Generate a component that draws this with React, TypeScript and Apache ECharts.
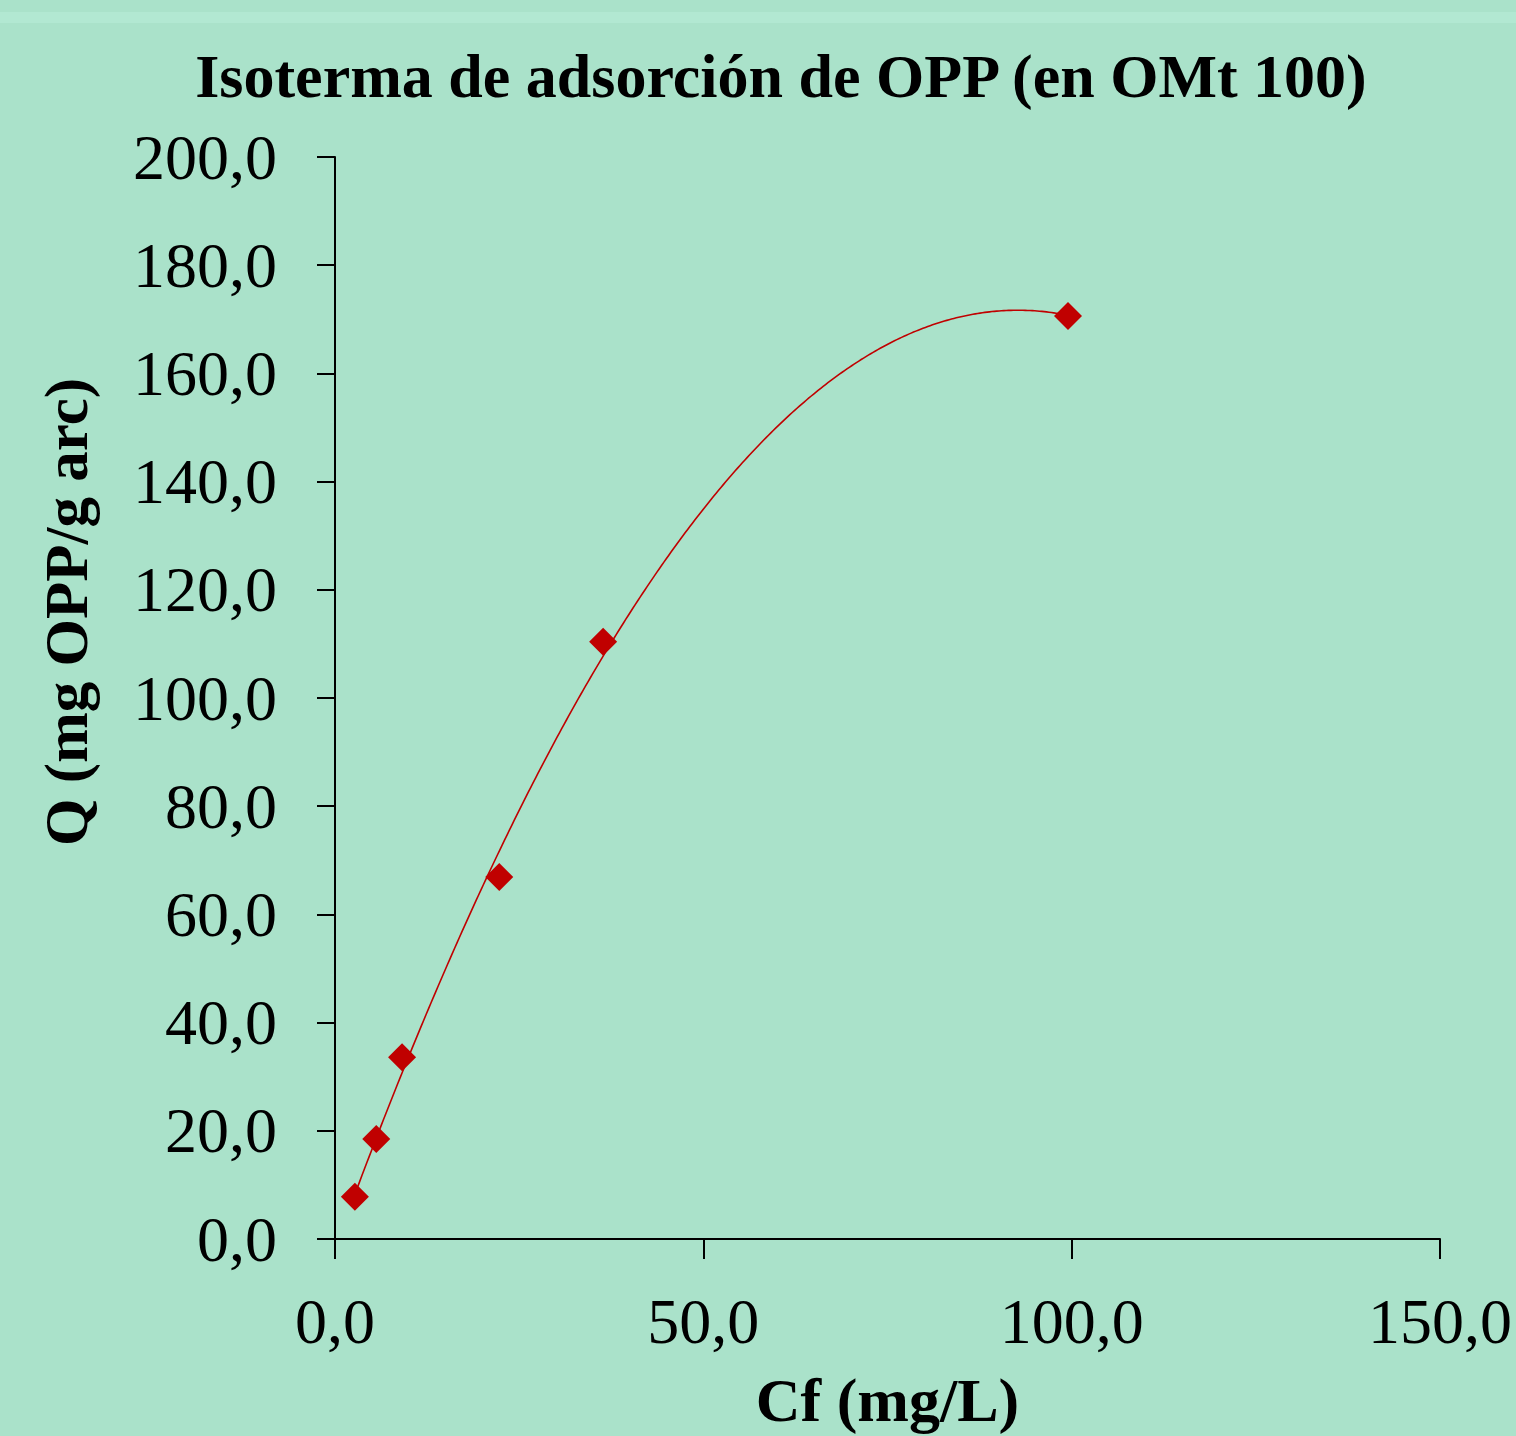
import React, { useEffect, useRef } from "react";
import * as echarts from "echarts";

const titleText = "Isoterma de adsorción de OPP (en OMt 100)";
const xAxisTitle = "Cf (mg/L)";
const yAxisTitle = "Q (mg OPP/g arc)";
const cfValues = [2.7, 5.6, 9.1, 22.3, 36.4, 99.5];
const qValues = [7.8, 18.5, 33.6, 66.9, 110.4, 170.6];
const trendDegree = 2;

const SERIF = "'Liberation Serif', 'DejaVu Serif', serif";

// Least-squares polynomial trendline (as in the source spreadsheet chart)
function polyFit(xs: number[], ys: number[], deg: number): number[] {
  const n = deg + 1;
  const A: number[][] = [];
  for (let r = 0; r < n; r++) {
    const row: number[] = [];
    for (let c = 0; c < n; c++) {
      let s = 0;
      for (let i = 0; i < xs.length; i++) s += Math.pow(xs[i], r + c);
      row.push(s);
    }
    let b = 0;
    for (let i = 0; i < xs.length; i++) b += ys[i] * Math.pow(xs[i], r);
    row.push(b);
    A.push(row);
  }
  for (let i = 0; i < n; i++) {
    let p = i;
    for (let k = i + 1; k < n; k++) if (Math.abs(A[k][i]) > Math.abs(A[p][i])) p = k;
    [A[i], A[p]] = [A[p], A[i]];
    for (let k = i + 1; k < n; k++) {
      const f = A[k][i] / A[i][i];
      for (let j = i; j <= n; j++) A[k][j] -= f * A[i][j];
    }
  }
  const coef = new Array(n).fill(0);
  for (let i = n - 1; i >= 0; i--) {
    let s = A[i][n];
    for (let j = i + 1; j < n; j++) s -= A[i][j] * coef[j];
    coef[i] = s / A[i][i];
  }
  return coef;
}

function trendSeries(deg: number, color: string) {
  const coef = polyFit(cfValues, qValues, deg);
  const evalP = (x: number) => coef.reduce((s, c, k) => s + c * Math.pow(x, k), 0);
  const xMin = Math.min(...cfValues);
  const xMax = Math.max(...cfValues);
  return {
    type: "custom",
    data: [[xMin, xMax]],
    silent: true,
    renderItem: (params: any, api: any) => {
      const pts: number[][] = [];
      const steps = 300;
      for (let i = 0; i <= steps; i++) {
        const x = xMin + ((xMax - xMin) * i) / steps;
        pts.push(api.coord([x, evalP(x)]));
      }
      return {
        type: "polyline",
        shape: { points: pts },
        style: { stroke: color, lineWidth: 1.6, fill: "none" },
      };
    },
    z: 1,
  };
}

export default function App() {
  const ref = useRef<HTMLDivElement>(null);
  useEffect(() => {
    const chart = echarts.init(ref.current!, null, { renderer: "svg" });
    const fmt = (v: number) => v.toFixed(1).replace(".", ",");
    chart.setOption({
      animation: false,
      backgroundColor: "#aae2ca",
      title: {
        text: titleText,
        left: 776,
        top: 40,
        textAlign: "center",
        textStyle: { fontFamily: SERIF, fontWeight: "bold", fontSize: 62, color: "#000" },
      },
      graphic: [
        { type: "rect", shape: { x: 0, y: 12, width: 1516, height: 11 }, style: { fill: "#b2e8d2" }, z: -1 },
        {
          type: "text",
          x: 66,
          y: 612,
          rotation: Math.PI / 2,
          style: {
            text: yAxisTitle,
            fontFamily: SERIF,
            fontWeight: "bold",
            fontSize: 61,
            fill: "#000",
            textAlign: "center",
            textVerticalAlign: "middle",
          },
        },
      ],
      grid: { left: 335, right: 76, top: 157, bottom: 197, containLabel: false },
      xAxis: {
        type: "value",
        min: 0,
        max: 150,
        interval: 50,
        name: xAxisTitle,
        nameLocation: "middle",
        nameGap: 130,
        nameTextStyle: { fontFamily: SERIF, fontWeight: "bold", fontSize: 62, color: "#000" },
        axisLine: { show: true, onZero: false, lineStyle: { color: "#000", width: 2 } },
        axisTick: { show: true, inside: false, length: 20, lineStyle: { color: "#000", width: 2 } },
        axisLabel: { formatter: fmt, margin: 50, fontFamily: SERIF, fontSize: 64, color: "#000" },
        splitLine: { show: false },
      },
      yAxis: {
        type: "value",
        min: 0,
        max: 200,
        interval: 20,
        axisLine: { show: true, onZero: false, lineStyle: { color: "#000", width: 2 } },
        axisTick: { show: true, inside: false, length: 18, lineStyle: { color: "#000", width: 2 } },
        axisLabel: { formatter: fmt, margin: 58, fontFamily: SERIF, fontSize: 64, color: "#000" },
        splitLine: { show: false },
      },
      series: [
        trendSeries(trendDegree, "#c00000"),
        {
          type: "scatter",
          data: cfValues.map((x, i) => [x, qValues[i]]),
          symbol: "diamond",
          symbolSize: 28,
          itemStyle: { color: "#c00000", opacity: 1 },
          z: 3,
        },
      ],
    });
    return () => chart.dispose();
  }, []);
  return (
    <div
      ref={ref}
      style={{ position: "absolute", left: 0, top: 0, width: 1516, height: 1436 }}
    />
  );
}
